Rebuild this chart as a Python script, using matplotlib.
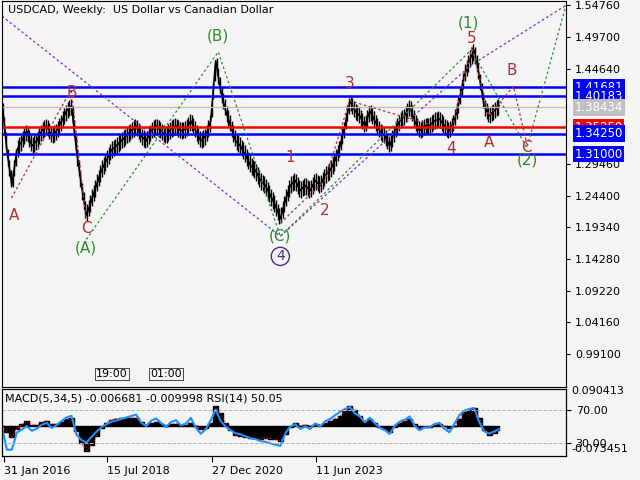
import numpy as np
import pandas as pd
import matplotlib
matplotlib.use("Agg")
import matplotlib.pyplot as plt

# ---- data (weekly index, price) ----
step = 6.25
close = [1.395,1.316,1.260,1.316,1.331,1.347,1.323,1.331,1.347,1.355,1.339,1.347,1.363,1.379,1.387,
         1.316,1.260,1.212,1.236,1.260,1.284,1.300,1.316,1.323,1.331,1.339,1.347,1.355,1.339,1.331,
         1.347,1.355,1.347,1.339,1.350,1.355,1.347,1.350,1.363,1.347,1.331,1.339,1.363,1.459,1.411,
         1.379,1.355,1.331,1.323,1.308,1.292,1.284,1.268,1.260,1.244,1.228,1.207,1.236,1.260,1.268,
         1.252,1.260,1.252,1.268,1.260,1.276,1.284,1.300,1.323,1.355,1.395,1.379,1.371,1.355,1.379,
         1.363,1.347,1.339,1.323,1.347,1.363,1.371,1.387,1.363,1.347,1.355,1.355,1.363,1.366,1.355,
         1.347,1.363,1.395,1.435,1.459,1.475,1.435,1.387,1.371,1.379,1.387]
weeks = np.arange(len(close)) * step

levels_blue = [1.41681, 1.40183, 1.34250, 1.31000]
level_red = 1.35250
level_gray = 1.38434
yticks = [1.5476,1.4970,1.4464,1.2946,1.2440,1.1934,1.1428,1.0922,1.0416,0.9910]
date_pos = [2.5, 132.5, 263.75, 395.0]
date_lbl = ["31 Jan 2016", "15 Jul 2018", "27 Dec 2020", "11 Jun 2023"]

purple = [(0,1.530),(350,1.179),(490,1.340),(590,1.452),(709,1.547)]
green = [(106,1.174),(272,1.473),(350,1.179),(590,1.476),(660,1.320),(709,1.547)]
red1 = [(12,1.240),(87,1.413),(106,1.204)]
red2 = [(350,1.200),(406,1.268),(437,1.395),(565,1.347),(591,1.481),(612,1.371),(643,1.418),(660,1.325)]

labels = [("A",15,1.212,"#b03030"),("B",88,1.408,"#b03030"),("C",106,1.191,"#b03030"),
          ("(A)",106,1.161,"#2e8b2e"),("(B)",272,1.498,"#2e8b2e"),("(C)",350,1.179,"#2e8b2e"),
          ("1",362,1.304,"#b03030"),("2",406,1.220,"#b03030"),("3",437,1.422,"#b03030"),
          ("4",565,1.319,"#b03030"),("5",590,1.494,"#b03030"),("(1)",587,1.519,"#2e8b2e"),
          ("B",641,1.443,"#b03030"),("A",612,1.328,"#b03030"),("C",659,1.320,"#b03030"),
          ("(2)",660,1.300,"#2e8b2e")]

bg = "#f4f4f4"
fig = plt.figure(figsize=(6.4,4.8), dpi=100, facecolor=bg)
ax = fig.add_axes([0.003, 1-387/480, 564/640, 386/480], facecolor=bg)
ax.set_xlim(0, 709)
ax.set_ylim(0.9388, 1.5540)
for i in range(len(close)-1):
    for f in (0.2, 0.5, 0.8):
        m = close[i] + (close[i+1]-close[i]) * f
        ax.vlines(weeks[i]+step*f, m-0.013, m+0.013, color="black", lw=1.0)
ax.plot(weeks, close, color="black", lw=1.2)
for l in levels_blue:
    ax.axhline(l, color="#0000ff", lw=1.8)
ax.axhline(level_red, color="red", lw=1.8)
ax.axhline(level_gray, color="#c0c0c0", lw=1)
for pts, c in [(purple,"#7b2fbe"),(green,"#2e8b2e"),(red1,"#b03030"),(red2,"#b03030")]:
    xs, ys = zip(*pts)
    ax.plot(xs, ys, ls=(0,(2,2)), color=c, lw=0.9)
for t,x,y,c in labels:
    ax.text(x, y, t, color=c, fontsize=11, ha="center", va="center")
ax.text(350, 1.147, "4", fontsize=10, ha="center", va="center", color="#4b2a8a",
        bbox=dict(boxstyle="circle,pad=0.15", fc="none", ec="#4b2a8a"))
ax.text(0.01, 0.99, "USDCAD, Weekly:  US Dollar vs Canadian Dollar", transform=ax.transAxes,
        fontsize=8, va="top")
ax.yaxis.tick_right()
ax.set_yticks(yticks)
ax.set_yticklabels([f"{v:.5f}" for v in yticks], fontsize=8)
ax.set_xticks([])
ax.tick_params(axis="y", length=3)
for v,c,fc in [(1.41681,"white","#0000ff"),(1.40183,"white","#0000ff"),(level_gray,"white","#c0c0c0"),
               (level_red,"white","red"),(1.34250,"white","#0000ff"),(1.31000,"white","#0000ff")]:
    ax.text(1.015, v, f"{v:.5f}", transform=ax.get_yaxis_transform(), fontsize=8.5, color=c,
            va="center", ha="left", bbox=dict(boxstyle="square,pad=0.15", fc=fc, ec="none"))
ax.text(118, 0.955, "19:00", fontsize=8, bbox=dict(boxstyle="square,pad=0.1", fc="none", ec="black", lw=0.5))
ax.text(186, 0.955, "01:00", fontsize=8, bbox=dict(boxstyle="square,pad=0.1", fc="none", ec="black", lw=0.5))

# ---- indicators ----
s = pd.Series(close)
macd = (s.ewm(span=2).mean() - s.ewm(span=7).mean()).values
d = s.diff()
up = d.clip(lower=0).ewm(alpha=1/5).mean(); dn = (-d.clip(upper=0)).ewm(alpha=1/5).mean()
rsi = (100 - 100/(1+up/dn.replace(0, 1e-9))).fillna(50).values
rsi = 50 + (rsi - 50) * 0.55

ax2 = fig.add_axes([0.003, 1-456/480, 564/640, 67/480], facecolor=bg)
ax2.set_xlim(0, 709); ax2.set_ylim(-0.0735, 0.0904)
ax2.fill_between(weeks, 0, macd, step="mid", color="black")
ax2.plot(weeks, macd, color="red", lw=0.8, ls=":")
ax3 = ax2.twinx()
ax3.set_ylim(15, 95)
ax3.plot(weeks, rsi, color="#1e90ff", lw=1.5)
for v in (70, 30):
    ax3.axhline(v, color="#b0b0b0", ls="--", lw=0.7)
ax2.set_yticks([])
ax3.set_yticks([70, 30]); ax3.set_yticklabels(["70.00", "30.00"], fontsize=8)
ax2.text(1.01, 0.97, "0.090413", transform=ax2.transAxes, fontsize=8, va="center")
ax2.text(1.01, 0.1, "-0.073451", transform=ax2.transAxes, fontsize=8, va="center")
ax2.text(0.005, 0.93, "MACD(5,34,5) -0.006681 -0.009998 RSI(14) 50.05", transform=ax2.transAxes,
         fontsize=8, va="top")
ax2.set_xticks(date_pos); ax2.set_xticklabels(date_lbl, fontsize=8, ha="left")
ax2.tick_params(axis="x", length=4)
fig.savefig("out.png", dpi=100, facecolor=bg)
